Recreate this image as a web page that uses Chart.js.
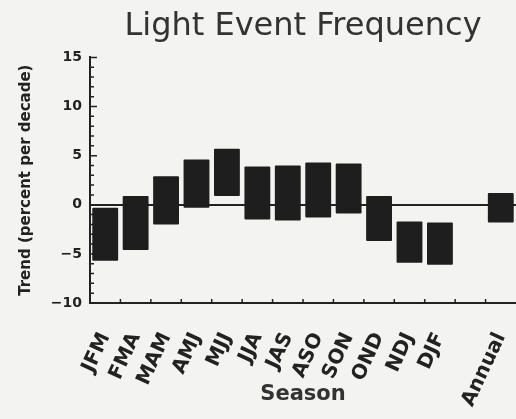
<!DOCTYPE html>
<html>
<head>
<meta charset="utf-8">
<script src="https://cdn.jsdelivr.net/npm/chart.js@4.4.1/dist/chart.umd.min.js"></script>
<style>
  html, body { margin: 0; padding: 0; background: #f3f3f1; }
  #wrap { width: 516px; height: 419px; }
</style>
</head>
<body>
<div id="wrap"><canvas id="trend"></canvas></div>
<script>
// seasons along the bottom, one blank slot before Annual
var seasons = ["JFM", "FMA", "MAM", "AMJ", "MJJ", "JJA", "JAS", "ASO", "SON", "OND", "NDJ", "DJF", "", "Annual"];
// bottom and top of each box (percent per decade)
var lows  = [-5.7, -4.6, -2.0, -0.3, 0.9, -1.5, -1.6, -1.3, -0.9, -3.7, -5.9, -6.1, null, -1.8];
var highs = [-0.3,  0.9,  2.9,  4.6, 5.7,  3.9,  4.0,  4.3,  4.2,  0.9, -1.7, -1.8, null,  1.2];
var yTicks = [-10, -5, 0, 5, 10, 15];

var ink = "#222";

var boxes = lows.map(function(l, i) {
  return l === null ? null : [l, highs[i]];
});

// little inward tick marks on both axes
var innerTicks = {
  id: "innerTicks",
  beforeDatasetsDraw: function(chart) {
    var ctx = chart.ctx, x = chart.scales.x, y = chart.scales.y;
    ctx.save();
    ctx.strokeStyle = ink;
    ctx.lineWidth = 1.5;
    ctx.beginPath();
    for (var v = yTicks[0]; v <= yTicks[yTicks.length - 1]; v++) {
      var py = y.getPixelForValue(v);
      var len = v % 5 === 0 ? 7 : 4;
      ctx.moveTo(x.left, py);
      ctx.lineTo(x.left + len, py);
    }
    for (var i = 1; i < seasons.length; i++) {
      var px = (x.getPixelForValue(i - 1) + x.getPixelForValue(i)) / 2;
      ctx.moveTo(px, y.bottom);
      ctx.lineTo(px, y.bottom - 4);
    }
    ctx.stroke();
    ctx.restore();
  }
};

new Chart(document.getElementById("trend"), {
  type: "bar",
  data: {
    labels: seasons,
    datasets: [{
      data: boxes,
      backgroundColor: "#1e1e1e",
      borderSkipped: false,
      borderRadius: 1,
      barPercentage: 0.85,
      categoryPercentage: 1
    }]
  },
  options: {
    responsive: true,
    maintainAspectRatio: false,
    animation: false,
    layout: { padding: 0 },
    plugins: {
      legend: { display: false },
      tooltip: { enabled: false },
      title: {
        display: true,
        text: "Light Event Frequency",
        fullSize: false,
        color: "#333",
        font: { family: "DejaVu Sans", size: 32, weight: "normal" },
        padding: { top: 7, bottom: 12 }
      }
    },
    scales: {
      x: {
        grid: { display: false },
        border: { display: true, color: ink, width: 2 },
        ticks: {
          autoSkip: false,
          maxRotation: 65,
          minRotation: 65,
          padding: 18,
          color: ink,
          font: { family: "DejaVu Sans", size: 20, weight: "bold" }
        },
        title: {
          display: true,
          text: "Season",
          color: "#333",
          font: { family: "DejaVu Sans", size: 21, weight: "bold" },
          padding: { bottom: 12 }
        },
        afterFit: function(scale) {
          scale.height = 116;
          scale.paddingLeft = 0;
          scale.paddingRight = 0;
        }
      },
      y: {
        min: -10,
        max: 15,
        grid: {
          drawTicks: false,
          color: function(c) { return c.tick && c.tick.value === 0 ? ink : "transparent"; },
          lineWidth: 2
        },
        border: { display: true, color: ink, width: 2 },
        ticks: {
          stepSize: 5,
          padding: 8,
          color: ink,
          font: { family: "DejaVu Sans", size: 14, weight: "bold" },
          callback: function(v) { return v < 0 ? "\u2212" + Math.abs(v) : v; }
        },
        title: {
          display: true,
          text: "Trend (percent per decade)",
          color: ink,
          font: { family: "DejaVu Sans", size: 15, weight: "bold" },
          padding: { top: 17 }
        },
        afterFit: function(scale) {
          scale.width = 90;
        }
      }
    }
  },
  plugins: [innerTicks]
});
</script>
</body>
</html>
